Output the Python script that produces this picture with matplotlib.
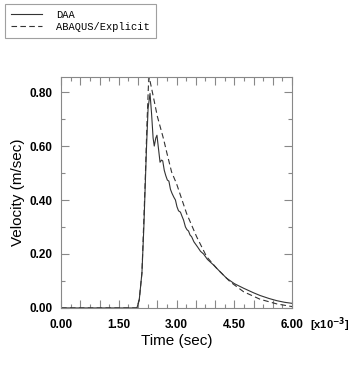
import matplotlib
matplotlib.use('Agg')
import matplotlib.pyplot as plt
from matplotlib.ticker import MultipleLocator, FuncFormatter

# DAA (solid) - time in 1e-3 s, velocity in m/s
t_daa = [0.0, 1.97, 2.03, 2.10, 2.15, 2.18, 2.22, 2.26, 2.31, 2.35, 2.39, 2.42,
         2.46, 2.49, 2.53, 2.57, 2.61, 2.64, 2.68, 2.72, 2.76, 2.80, 2.84, 2.88,
         2.93, 2.97, 3.01, 3.05, 3.10, 3.14, 3.18, 3.23, 3.27, 3.31, 3.35, 3.39,
         3.45, 3.50, 3.55, 3.62, 3.70, 3.80, 3.96, 4.13, 4.30, 4.50, 4.74, 5.00,
         5.17, 5.40, 5.60, 5.80, 6.00]
v_daa = [0.0, 0.0, 0.03, 0.13, 0.30, 0.43, 0.60, 0.74, 0.795, 0.72, 0.63, 0.60,
         0.63, 0.64, 0.59, 0.54, 0.548, 0.545, 0.51, 0.49, 0.474, 0.47, 0.44, 0.425,
         0.41, 0.40, 0.375, 0.36, 0.355, 0.34, 0.326, 0.30, 0.29, 0.285, 0.27, 0.264,
         0.245, 0.235, 0.225, 0.21, 0.20, 0.18, 0.159, 0.134, 0.11, 0.09, 0.073, 0.056,
         0.046, 0.035, 0.027, 0.021, 0.017]

# ABAQUS/Explicit (dashed)
t_abq = [0.0, 1.97, 2.03, 2.10, 2.18, 2.23, 2.27, 2.29, 2.40, 2.50, 2.66, 2.75,
         2.87, 3.00, 3.26, 3.52, 3.78, 4.04, 4.39, 4.74, 5.17, 5.60, 6.00]
v_abq = [0.0, 0.0, 0.03, 0.13, 0.45, 0.68, 0.83, 0.855, 0.78, 0.71, 0.627, 0.573,
         0.504, 0.46, 0.35, 0.264, 0.19, 0.147, 0.097, 0.06, 0.032, 0.015, 0.005]

plt.rcParams['font.family'] = ['Liberation Sans', 'DejaVu Sans']

fig = plt.figure(figsize=(3.49, 3.83), dpi=100)
ax = fig.add_axes([0.175, 0.196, 0.662, 0.603])

ax.plot(t_daa, v_daa, '-', color='#333333', lw=0.8, label='DAA')
ax.plot(t_abq, v_abq, '--', color='#333333', lw=0.8, dashes=(5, 3), label='ABAQUS/Explicit')

ax.set_xlim(0, 6)
ax.set_ylim(0, 0.856)

ax.xaxis.set_major_locator(MultipleLocator(0.5))
ax.xaxis.set_minor_locator(MultipleLocator(0.25))
ax.xaxis.set_major_formatter(FuncFormatter(
    lambda x, p: '%.2f' % x if abs(x / 1.5 - round(x / 1.5)) < 1e-6 else ''))
ax.yaxis.set_major_locator(MultipleLocator(0.2))
ax.yaxis.set_minor_locator(MultipleLocator(0.1))
ax.yaxis.set_major_formatter(FuncFormatter(lambda y, p: '%.2f' % y))

for s in ax.spines.values():
    s.set_color('#888888')
    s.set_linewidth(0.8)
ax.tick_params(which='both', direction='in', top=True, right=True,
               color='#888888', width=0.8)
ax.tick_params(which='major', length=6, labelsize=8.5)
ax.tick_params(axis='x', which='major', pad=8)
ax.tick_params(axis='y', which='major', pad=6)
ax.tick_params(which='minor', length=3.2)
for lab in ax.get_xticklabels() + ax.get_yticklabels():
    lab.set_fontweight('bold')

ax.set_xlabel('Time (sec)', fontsize=11, labelpad=2)
ax.set_ylabel('Velocity (m/sec)', fontsize=11, labelpad=3)

fig.text(0.888, 0.152, r'[x10$^{\mathbf{-3}}$]', fontsize=8, fontweight='bold',
         ha='left', va='center')

leg = fig.legend(loc='upper left', bbox_to_anchor=(0.014, 0.99), borderaxespad=0,
                 frameon=True, fancybox=False, edgecolor='#888888', handlelength=3.0,
                 handletextpad=1.3, borderpad=0.6, labelspacing=0.15,
                 prop={'family': 'Liberation Mono', 'size': 7.5})
leg.get_frame().set_linewidth(0.8)

fig.savefig('out.png', dpi=100)
